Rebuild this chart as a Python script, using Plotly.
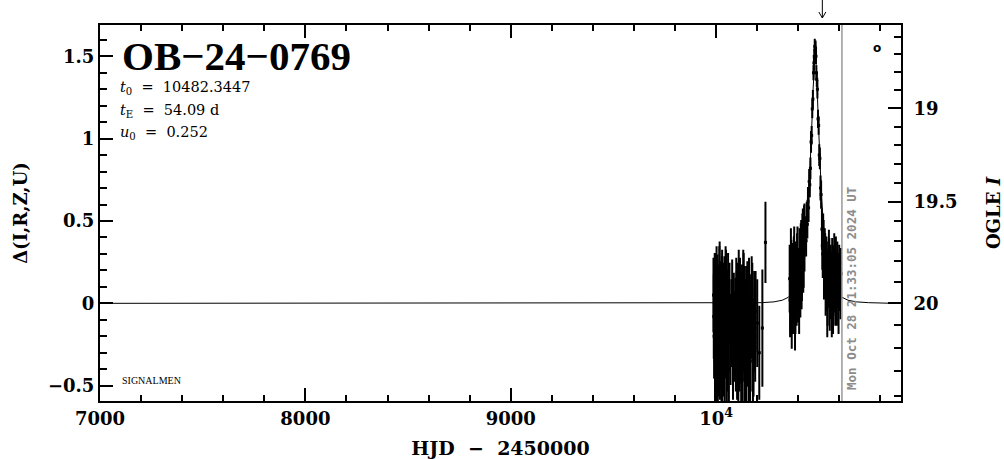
import math
import plotly.graph_objects as go

# ---------------- data ----------------
X_RANGE = [7000, 10900]
Y_RANGE = [-0.593, 1.69]

X_TICKS = [7000, 8000, 9000, 10000]
X_TICKTEXT = ["7000", "8000", "9000", "10<sup>4</sup>"]
Y_TICKS = [-0.5, 0, 0.5, 1, 1.5]
Y_TICKTEXT = ["\u22120.5", "0", "0.5", "1", "1.5"]

MAG_MAJOR = [19.0, 19.5, 20.0]
MAG_MAJOR_TEXT = ["19", "19.5", "20"]
MAG_MINOR = [18.6, 18.7, 18.8, 18.9, 19.1, 19.2, 19.3, 19.4, 19.6, 19.7, 19.8, 19.9, 20.1, 20.2, 20.3, 20.4]
BLEND = 0.235  # blend fraction used by the magnitude scale

NOW_HJD = 10612.4
ARROW_HJD = 10517

# model light curve
MODEL_T = [7000, 9500, 9900, 10000, 10130, 10220, 10282, 10322, 10352, 10382, 10402, 10422,
           10432, 10442, 10452, 10457, 10462, 10467, 10472, 10476, 10479, 10482.3, 10485,
           10488, 10492, 10497, 10502, 10507, 10512, 10522, 10532, 10542, 10562, 10582,
           10612, 10642, 10682, 10742, 10832, 10900]
MODEL_D = [0.0, 0.0, 0.0, 0.0, 0.001, 0.004, 0.009, 0.019, 0.037, 0.078, 0.136, 0.250,
           0.344, 0.480, 0.675, 0.801, 0.950, 1.121, 1.301, 1.431, 1.497, 1.522, 1.497,
           1.431, 1.301, 1.121, 0.950, 0.801, 0.675, 0.480, 0.344, 0.250, 0.136, 0.078,
           0.037, 0.019, 0.009, 0.004, 0.001, 0.0]

# season 1 photometry
S1_T = [9987, 9990, 9993, 9996, 9999, 10002, 10005, 10008, 10011, 10014, 10017, 10020, 10023,
        10026, 10029, 10032, 10036, 10040, 10044, 10048, 10052, 10056, 10060, 10065, 10070,
        10094, 10098, 10102, 10106, 10110, 10114, 10118, 10122, 10126, 10130, 10134, 10138,
        10142, 10146, 10150, 10155, 10160, 10165, 10170, 10176, 10182, 10188, 10192, 10225, 10240]
S1_D = [0.05, -0.20, 0.10, -0.30, -0.05, 0.12, -0.15, -0.35, 0.02, -0.10, 0.15, -0.25, -0.02,
        -0.40, 0.08, -0.12, -0.28, 0.05, -0.18, 0.10, -0.32, -0.05, -0.15, 0.00, -0.22,
        -0.10, 0.05, -0.30, -0.15, 0.10, -0.25, -0.05, -0.38, 0.00, -0.20, 0.08, -0.30,
        -0.12, -0.45, -0.02, -0.22, 0.05, -0.35, -0.08, 0.02, -0.28, -0.15, -0.05, -0.15, 0.37]
S1_E = [0.22, 0.25, 0.20, 0.28, 0.24, 0.22, 0.26, 0.30, 0.21, 0.25, 0.22, 0.27, 0.23,
        0.30, 0.24, 0.26, 0.28, 0.23, 0.27, 0.22, 0.30, 0.25, 0.26, 0.24, 0.27,
        0.25, 0.22, 0.28, 0.26, 0.22, 0.28, 0.24, 0.30, 0.23, 0.27, 0.22, 0.30,
        0.26, 0.30, 0.24, 0.28, 0.22, 0.30, 0.25, 0.22, 0.28, 0.26, 0.24, 0.35, 0.24]

S1B_T = [9988.5, 9991.5, 9994.5, 9997.5, 10000.5, 10003.5, 10006.5, 10009.5, 10012.5, 10015.5,
         10018.5, 10021.5, 10024.5, 10027.5, 10030.5, 10034, 10038, 10042, 10046, 10050, 10054,
         10058, 10062, 10074, 10078, 10082, 10086, 10090,
         10096, 10100, 10104, 10108, 10112, 10116, 10120, 10124, 10128, 10132, 10136, 10140,
         10144, 10148, 10152, 10158, 10163, 10168, 10173, 10179, 10185, 10190, 10200, 10210]
S1B_D = [-0.08, 0.00, -0.35, 0.08, -0.22, -0.40, 0.05, -0.12, -0.28, 0.12, -0.30, 0.02, -0.15,
         0.06, -0.33, 0.00, -0.10, -0.38, 0.12, -0.05, -0.25, 0.08, -0.40, -0.12, 0.04, -0.30,
         -0.06, -0.20,
         -0.25, -0.05, 0.02, -0.35, -0.12, 0.05, -0.20, -0.08, -0.30, 0.10, -0.15, -0.02,
         -0.40, -0.18, 0.03, -0.30, -0.10, -0.25, 0.06, -0.35, -0.05, -0.20, -0.12, -0.30]
S1B_E = [0.25, 0.22, 0.28, 0.22, 0.26, 0.30, 0.24, 0.25, 0.28, 0.22, 0.28, 0.23, 0.26, 0.22,
         0.30, 0.24, 0.25, 0.30, 0.22, 0.24, 0.28, 0.22, 0.30, 0.26, 0.22, 0.28, 0.24, 0.27,
         0.28, 0.24, 0.22, 0.30, 0.26, 0.22, 0.28, 0.25, 0.30, 0.22, 0.26, 0.24, 0.30, 0.27,
         0.22, 0.30, 0.25, 0.28, 0.22, 0.30, 0.24, 0.27, 0.26, 0.28]

# season 2 photometry (incl. the peak)
S2_T = [10358, 10362, 10366, 10370, 10374, 10378, 10382, 10386, 10390, 10394, 10398, 10402,
        10406, 10410, 10414, 10418, 10422, 10426, 10430,
        10434, 10438, 10441, 10444, 10447, 10450, 10453, 10456, 10459, 10462, 10465, 10468,
        10471, 10474, 10476, 10478, 10480, 10482, 10484,
        10486, 10488, 10490, 10493, 10496, 10499, 10502, 10505, 10508, 10511,
        10515, 10519, 10523, 10527, 10531, 10535, 10539, 10543, 10547, 10551, 10555, 10559,
        10563, 10567, 10571, 10575, 10580, 10585, 10590, 10596, 10602, 10608]
S2_D = [0.15, 0.05, 0.20, 0.10, 0.00, 0.18, 0.08, -0.02, 0.12, 0.22, 0.05, 0.15,
        0.25, 0.10, 0.30, 0.20, 0.35, 0.28, 0.40,
        0.42, 0.38, 0.52, 0.48, 0.62, 0.58, 0.74, 0.72, 0.82, 0.98, 1.02, 1.18,
        1.24, 1.40, 1.46, 1.50, 1.56, 1.54, 1.55,
        1.50, 1.40, 1.36, 1.30, 1.12, 1.08, 0.90, 0.88, 0.70, 0.66,
        0.45, 0.30, 0.38, 0.20, 0.28, 0.12, 0.22, 0.05, 0.18, 0.25, 0.08, 0.15,
        -0.02, 0.20, 0.10, 0.28, 0.05, 0.15, 0.22, 0.00, 0.12, 0.18]
S2_E = [0.20, 0.22, 0.18, 0.20, 0.18, 0.22, 0.20, 0.16, 0.18, 0.20, 0.16, 0.18,
        0.20, 0.18, 0.20, 0.18, 0.22, 0.18, 0.20,
        0.10, 0.09, 0.09, 0.08, 0.08, 0.08, 0.07, 0.07, 0.06, 0.06, 0.05, 0.05,
        0.05, 0.04, 0.04, 0.04, 0.04, 0.04, 0.04,
        0.04, 0.04, 0.04, 0.05, 0.05, 0.05, 0.06, 0.06, 0.07, 0.08,
        0.12, 0.14, 0.12, 0.15, 0.14, 0.16, 0.15, 0.18, 0.15, 0.14, 0.17, 0.16,
        0.18, 0.15, 0.17, 0.14, 0.18, 0.16, 0.15, 0.18, 0.16, 0.15]

S2B_T = [10360, 10364, 10368, 10372, 10376, 10380, 10384, 10388, 10392, 10396, 10400, 10404,
         10408, 10412, 10416, 10420, 10424, 10428,
         10517, 10521, 10525, 10529, 10533, 10537, 10541, 10545, 10549, 10553, 10557, 10561,
         10565, 10569, 10573, 10578, 10583, 10588, 10593, 10599, 10605]
S2B_D = [0.02, 0.25, -0.05, 0.18, 0.08, 0.28, -0.08, 0.15, 0.05, 0.30, 0.12, 0.02,
         0.20, 0.32, 0.15, 0.38, 0.22, 0.45,
         0.35, 0.42, 0.18, 0.32, 0.10, 0.25, -0.02, 0.15, 0.30, 0.02, 0.20, 0.10,
         0.24, 0.00, 0.18, 0.12, 0.26, 0.05, 0.14, 0.20, 0.08]
S2B_E = [0.22, 0.20, 0.22, 0.18, 0.20, 0.18, 0.20, 0.22, 0.18, 0.16, 0.18, 0.20,
         0.18, 0.16, 0.18, 0.16, 0.15, 0.14,
         0.14, 0.12, 0.15, 0.13, 0.17, 0.15, 0.18, 0.16, 0.14, 0.18, 0.15, 0.17,
         0.15, 0.18, 0.16, 0.17, 0.14, 0.18, 0.16, 0.15, 0.17]


def mag_to_delta(m):
    f = 10 ** (-0.4 * (m - 20.0))
    return 2.5 * math.log10((f - BLEND) / (1 - BLEND))


SERIF = "DejaVu Serif"
BLACK = "black"

fig = go.Figure()

fig.add_trace(go.Scatter(
    x=S1_T + S1B_T + S2_T + S2B_T, y=S1_D + S1B_D + S2_D + S2B_D, mode="markers",
    marker=dict(symbol="square", size=3, color=BLACK),
    error_y=dict(type="data", array=S1_E + S1B_E + S2_E + S2B_E, color=BLACK, thickness=2, width=1),
    showlegend=False, hoverinfo="skip"))

fig.add_trace(go.Scatter(
    x=MODEL_T, y=MODEL_D, mode="lines", line=dict(color=BLACK, width=1),
    yaxis="y2", showlegend=False, hoverinfo="skip"))

axis_common = dict(showgrid=False, zeroline=False, showline=True, linecolor=BLACK, linewidth=2,
                   ticks="inside", tickcolor=BLACK, tickwidth=2, ticklen=13, automargin=False)

fig.update_layout(
    width=1004, height=459,
    margin=dict(l=100, r=103, t=25, b=58, autoexpand=False),
    paper_bgcolor="white", plot_bgcolor="white",
    xaxis=dict(range=X_RANGE, tickmode="array", tickvals=X_TICKS, ticktext=X_TICKTEXT,
               mirror="ticks",
               minor=dict(dtick=200, tick0=7000, ticklen=6, tickwidth=2, tickcolor=BLACK, ticks="inside"),
               tickfont=dict(family=SERIF, size=18, color=BLACK, weight="bold"),
               title=dict(text="HJD \u00a0\u2212\u00a0 2450000",
                          font=dict(family=SERIF, size=19, color=BLACK, weight="bold"), standoff=16),
               **axis_common),
    yaxis=dict(range=Y_RANGE, tickmode="array", tickvals=Y_TICKS, ticktext=Y_TICKTEXT,
               mirror=False,
               minor=dict(dtick=0.1, tick0=0, ticklen=7, tickwidth=2, tickcolor=BLACK, ticks="inside"),
               tickfont=dict(family=SERIF, size=18, color=BLACK, weight="bold"),
               title=dict(text="\u0394(I,R,Z,U)",
                          font=dict(family=SERIF, size=18, color=BLACK, weight="bold"), standoff=16),
               **axis_common),
    yaxis2=dict(range=Y_RANGE, overlaying="y", side="right", tickmode="array",
                tickvals=[mag_to_delta(m) for m in MAG_MAJOR], ticktext=MAG_MAJOR_TEXT,
                ticklabelstandoff=7,
                minor=dict(tickmode="array", tickvals=[mag_to_delta(m) for m in MAG_MINOR],
                           ticklen=7, tickwidth=2, tickcolor=BLACK, ticks="inside"),
                tickfont=dict(family=SERIF, size=18, color=BLACK, weight="bold"),
                title=dict(text="OGLE <i>I</i>",
                           font=dict(family=SERIF, size=18, color=BLACK, weight="bold"), standoff=31),
                **axis_common),
)

# current-date line
fig.add_shape(type="line", xref="x", yref="paper", x0=NOW_HJD, x1=NOW_HJD, y0=0, y1=1,
              line=dict(color="#999999", width=1.5))
fig.add_annotation(xref="x", yref="paper", x=NOW_HJD, y=0, xanchor="left", yanchor="bottom",
                   xshift=0, yshift=9, textangle=-90, showarrow=False,
                   text="Mon Oct 28 21:33:05 2024 UT",
                   font=dict(family="DejaVu Sans Mono", size=12.5, color="#8c8c8c", weight="bold"))

# arrow above the frame
xa = (ARROW_HJD - X_RANGE[0]) / (X_RANGE[1] - X_RANGE[0])
yt = 1 + 7 / 376
for (x0, y0, x1, y1) in [(0, yt + 25 / 376, 0, yt), (-3.5 / 801, yt + 6 / 376, 0, yt),
                         (3.5 / 801, yt + 6 / 376, 0, yt)]:
    fig.add_shape(type="line", xref="paper", yref="paper", x0=xa + x0, x1=xa + x1, y0=y0, y1=y1,
                  line=dict(color=BLACK, width=1))

# texts
fig.add_annotation(xref="paper", yref="paper", x=20 / 801, y=(401 - 56) / 376, xanchor="left",
                   yanchor="middle", showarrow=False, text="OB\u221224\u22120769",
                   font=dict(family="Liberation Serif", size=41, color=BLACK, weight="bold"))
params = ["<i>t</i><sub>0</sub> \u00a0=\u00a0 10482.3447", "<i>t</i><sub>E</sub> \u00a0=\u00a0 54.09 d",
          "<i>u</i><sub>0</sub> \u00a0=\u00a0 0.252"]
for i, p in enumerate(params):
    fig.add_annotation(xref="paper", yref="paper", x=18 / 801, y=(401 - (88 + 22.5 * i)) / 376,
                       xanchor="left", yanchor="middle", showarrow=False, text=p,
                       font=dict(family=SERIF, size=14.5, color=BLACK))
fig.add_annotation(xref="paper", yref="paper", x=20 / 801, y=(401 - 380) / 376, xanchor="left",
                   yanchor="middle", showarrow=False, text="SIGNALMEN",
                   font=dict(family="Liberation Serif", size=10, color=BLACK))
fig.add_annotation(xref="paper", yref="paper", x=(877 - 100) / 801, y=(401 - 48) / 376,
                   xanchor="center", yanchor="middle", showarrow=False, text="o",
                   font=dict(family="DejaVu Sans", size=12, color=BLACK, weight="bold"))

fig.write_html("out.html", config={"displayModeBar": False},
               post_script="document.body.style.margin='0px';document.body.style.overflow='hidden';")
